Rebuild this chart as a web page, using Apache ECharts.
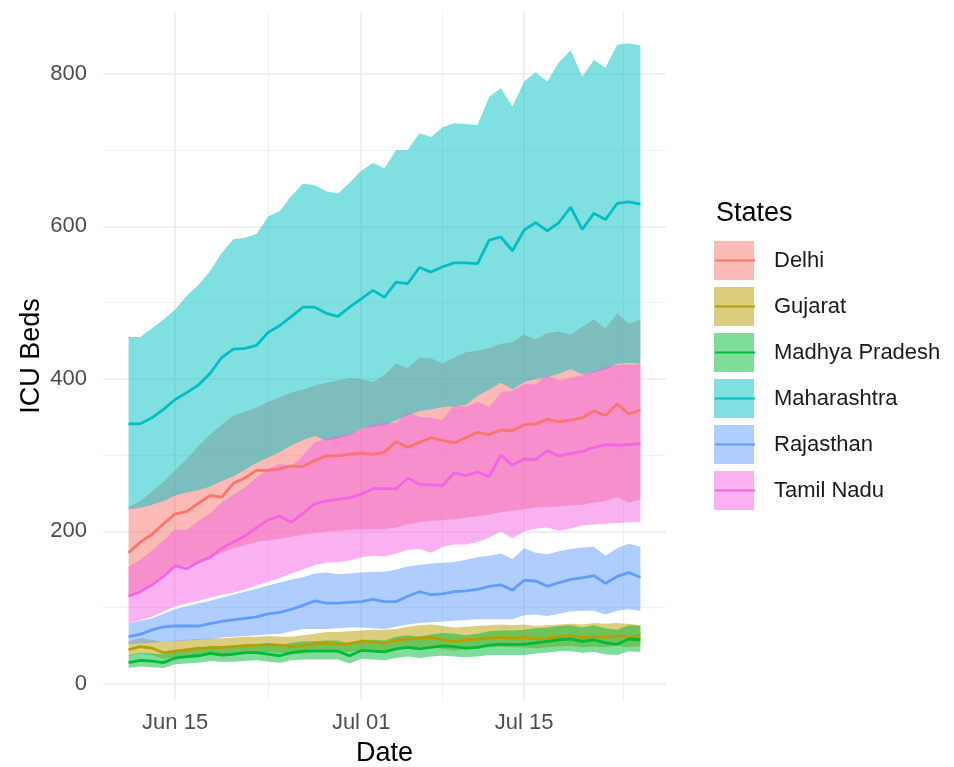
<!DOCTYPE html>
<html><head><meta charset="utf-8">
<script src="https://cdn.jsdelivr.net/npm/echarts@6/dist/echarts.min.js"></script>
<style>html,body{margin:0;padding:0;background:#fff}#c{width:954px;height:767px}</style>
</head><body><div id="c"></div>
<script>
const dates = ['2020-06-11','2020-06-12','2020-06-13','2020-06-14','2020-06-15','2020-06-16','2020-06-17','2020-06-18','2020-06-19','2020-06-20',
'2020-06-21','2020-06-22','2020-06-23','2020-06-24','2020-06-25','2020-06-26','2020-06-27','2020-06-28','2020-06-29','2020-06-30',
'2020-07-01','2020-07-02','2020-07-03','2020-07-04','2020-07-05','2020-07-06','2020-07-07','2020-07-08','2020-07-09','2020-07-10',
'2020-07-11','2020-07-12','2020-07-13','2020-07-14','2020-07-15','2020-07-16','2020-07-17','2020-07-18','2020-07-19','2020-07-20',
'2020-07-21','2020-07-22','2020-07-23','2020-07-24','2020-07-25'];
const states = ['Delhi','Gujarat','Madhya Pradesh','Maharashtra','Rajasthan','Tamil Nadu'];
const colors = ['#F8766D','#B79F00','#00BA38','#00BFC4','#619CFF','#F564E3'];

const delhiMid = [172,186,196,210,223,226,237,247,245,263,270,280,280,282,286,285,293,299,299,301,303,301,304,318,310,317,323,319,316,323,330,327,333,332,340,341,347,344,346,349,358,352,367,354,359];
const delhiUp  = [232,240,252,265,280,295,312,327,340,352,357,362,370,376,382,386,391,395,398,401,400,396,405,420,414,428,427,420,428,435,437,440,446,448,458,452,460,462,458,468,478,466,486,472,478];
const delhiLow = [116,122,132,143,152,155,160,165,172,178,182,186,188,190,193,196,198,200,201,202,203,203,203,205,209,212,214,215,216,218,220,222,225,227,229,231,232,233,234,235,238,240,245,238,242];

const gujMid = [45,49,47,41,43,45,47,47,48,49,50,51,52,51,49,50,53,54,52,53,56,55,54,57,59,60,61,58,56,58,59,60,61,60,61,59,60,62,63,61,62,61,63,61,63];
const gujUp  = [56,60,58,55,57,58,59,60,60,61,62,62,63,62,62,64,66,68,68,69,70,71,71,72,75,77,78,76,74,75,76,77,78,77,78,76,77,78,79,78,80,79,80,79,77];
const gujLow = [37,40,38,33,35,36,38,38,39,40,40,41,42,41,39,40,43,43,42,42,45,44,43,46,47,48,49,46,44,46,47,48,49,48,48,47,48,49,50,48,49,48,50,48,50];

const mpMid = [28,31,30,28,34,36,37,40,38,39,41,41,39,37,41,43,43,43,43,37,44,43,42,46,48,46,48,50,49,47,48,51,52,52,52,54,56,58,59,56,58,54,52,59,58];
const mpUp  = [38,41,40,39,44,46,47,50,49,50,52,52,51,50,54,56,56,57,57,52,58,58,57,62,64,62,65,67,66,64,66,69,70,70,71,73,74,76,77,74,77,73,71,77,76];
const mpLow = [21,23,22,21,26,27,28,30,29,29,30,31,29,28,31,32,32,32,32,27,33,32,31,34,36,34,36,37,36,35,36,38,38,38,38,40,41,43,43,41,42,39,38,43,42];

const mahaMid = [341,341,349,360,373,382,392,407,428,439,440,444,461,470,482,494,494,486,482,494,505,516,507,527,525,546,540,547,552,552,551,582,586,568,595,605,594,605,625,596,617,609,630,632,629];
const mahaUp  = [455,455,466,478,491,509,523,541,565,583,585,590,613,620,640,656,654,646,643,657,673,683,676,700,700,722,717,730,735,734,733,770,781,757,790,802,790,815,831,796,818,808,838,840,837];
const mahaLow = [229,231,235,240,247,251,254,259,266,272,281,290,297,304,313,320,325,319,322,326,335,337,339,346,352,358,360,363,364,366,378,386,395,386,396,400,402,407,413,406,408,412,420,421,420];

const rajMid = [62,65,71,75,76,76,76,79,82,84,86,88,92,94,98,103,109,106,106,107,108,111,108,108,115,121,117,118,121,122,124,128,130,123,136,135,128,133,137,139,142,132,141,146,140];
const rajUp  = [80,83,86,92,98,102,106,109,113,117,121,125,129,133,137,140,145,146,144,145,146,147,147,150,154,156,158,159,160,163,166,168,171,164,178,172,170,174,177,179,180,168,178,184,180];
const rajLow = [52,53,54,55,56,57,58,59,61,62,63,64,65,66,69,72,72,72,73,74,74,73,72,75,78,80,81,82,83,84,85,85,85,85,90,91,89,92,95,96,96,91,96,98,96];

const tnMid = [115,121,130,141,155,151,160,166,178,186,194,205,215,220,212,224,236,240,242,244,249,256,256,256,270,262,261,260,277,273,278,272,300,287,295,294,306,299,302,305,310,314,313,314,315];
const tnUp  = [154,163,175,188,203,202,214,224,238,248,258,271,282,289,285,300,317,322,325,328,334,341,342,342,357,350,349,346,366,363,370,363,382,384,393,393,405,398,401,405,410,417,418,419,419];
const tnLow = [80,84,88,95,102,106,109,113,117,120,124,129,134,139,145,150,156,159,160,162,166,168,167,171,176,177,172,180,183,183,186,192,200,191,200,204,205,201,204,208,209,210,211,212,212];

const xTickDates = ['2020-06-15','2020-07-01','2020-07-15'];
const xTickLabels = ['Jun 15','Jul 01','Jul 15'];
const xMinorDates = ['2020-06-23','2020-07-08','2020-07-23 12:00'];
const yTicks = [0,200,400,600,800];
const yMinor = [100,300,500,700];

const mids = [delhiMid, gujMid, mpMid, mahaMid, rajMid, tnMid];
const ups  = [delhiUp, gujUp, mpUp, mahaUp, rajUp, tnUp];
const lows = [delhiLow, gujLow, mpLow, mahaLow, rajLow, tnLow];

const DAY = 86400000;
const t = s => echarts.time.parse(s).getTime();
function fill(hex, a) {
  const n = parseInt(hex.slice(1), 16);
  return 'rgba(' + (n >> 16 & 255) + ',' + (n >> 8 & 255) + ',' + (n & 255) + ',' + a + ')';
}
const ALPHA = 0.5;
const FONT = 'Liberation Sans';
const xTickVals = xTickDates.map(t);

function ribbonRenderer(color) {
  return function (params, api) {
    if (params.dataIndexInside !== 0) return null;
    const n = params.dataInsideLength;
    const top = [], bot = [];
    for (let k = 0; k < n; k++) {
      top.push(api.coord([api.value(0, k), api.value(2, k)]));
      bot.push(api.coord([api.value(0, k), api.value(1, k)]));
    }
    return {
      type: 'polygon', silent: true,
      shape: { points: top.concat(bot.reverse()) },
      style: { fill: color, stroke: null }
    };
  };
}

const series = [];
states.forEach((s, i) => {
  series.push({
    type: 'line', name: s, z: 4, symbol: 'none', silent: true,
    data: dates.map((d, j) => [t(d), mids[i][j]]),
    lineStyle: { color: colors[i], width: 2.8 },
    itemStyle: { color: colors[i] }
  });
});
states.forEach((s, i) => {
  series.push({
    type: 'custom', name: s, z: 2, silent: true, clip: true,
    renderItem: ribbonRenderer(fill(colors[i], ALPHA)),
    encode: { x: 0, y: [1, 2] },
    data: dates.map((d, j) => [t(d), lows[i][j], ups[i][j]])
  });
});
const gl = (w) => ({ color: '#EBEBEB', width: w, type: 'solid' });
series.push({
  type: 'line', name: '__grid', z: 0, silent: true, symbol: 'none',
  data: [[t(dates[0]), null]],
  markLine: {
    z: 0, silent: true, symbol: ['none', 'none'], label: { show: false }, emphasis: { disabled: true },
    data: [].concat(
      yMinor.map(v => ({ yAxis: v, lineStyle: gl(0.8) })),
      xMinorDates.map(d => ({ xAxis: t(d), lineStyle: gl(0.8) })),
      yTicks.map(v => ({ yAxis: v, lineStyle: gl(1.6) })),
      xTickVals.map(v => ({ xAxis: v, lineStyle: gl(1.6) }))
    )
  }
});

const option = {
  animation: false,
  backgroundColor: '#fff',
  textStyle: { fontFamily: FONT },
  title: { text: 'States', left: 711, top: 195,
    textStyle: { fontSize: 27, fontWeight: 'normal', color: '#000', fontFamily: FONT } },
  grid: { left: 103, right: 288, top: 12, bottom: 67, containLabel: false, outerBoundsMode: 'none' },
  xAxis: {
    type: 'value',
    min: t(dates[0]) - 2.2 * DAY, max: t(dates[dates.length - 1]) + 2.2 * DAY,
    name: 'Date', nameLocation: 'middle', nameGap: 40, nameMoveOverlap: false,
    nameTextStyle: { fontSize: 27, color: '#000', fontFamily: FONT },
    axisLine: { show: false }, axisTick: { show: false }, splitLine: { show: false },
    axisLabel: {
      customValues: xTickVals, margin: 12, fontSize: 22, color: '#4D4D4D', fontFamily: FONT,
      formatter: (v) => { const k = xTickVals.indexOf(+v); return k >= 0 ? xTickLabels[k] : ''; }
    }
  },
  yAxis: {
    type: 'value', min: -21, max: 881,
    name: 'ICU Beds', nameLocation: 'middle', nameGap: 58, nameRotate: 90, nameMoveOverlap: false,
    nameTextStyle: { fontSize: 27, color: '#000', fontFamily: FONT },
    axisLine: { show: false }, axisTick: { show: false }, splitLine: { show: false },
    axisLabel: { customValues: yTicks, margin: 16, fontSize: 22, color: '#4D4D4D', fontFamily: FONT }
  },
  legend: [
    {
      orient: 'vertical', left: 709, top: 236, itemWidth: 40, itemHeight: 39, itemGap: 7,
      selectedMode: false, icon: 'rect',
      data: states.map((s, i) => ({ name: s, itemStyle: { color: fill(colors[i], ALPHA), borderWidth: 0 } })),
      textStyle: { fontSize: 22, color: '#1A1A1A', fontFamily: FONT, padding: [0, 0, 0, 15] }
    },
    {
      orient: 'vertical', left: 709, top: 240, itemWidth: 40, itemHeight: 39, itemGap: 14.8,
      selectedMode: false,
      data: states.slice(),
      itemStyle: { opacity: 0 },
      textStyle: { fontSize: 22, color: 'rgba(0,0,0,0)', fontFamily: FONT, padding: [0, 0, 0, 15] }
    }
  ],
  series: series
};
const chart = echarts.init(document.getElementById('c'), null, { renderer: 'canvas' });
chart.setOption(option);
</script></body></html>
